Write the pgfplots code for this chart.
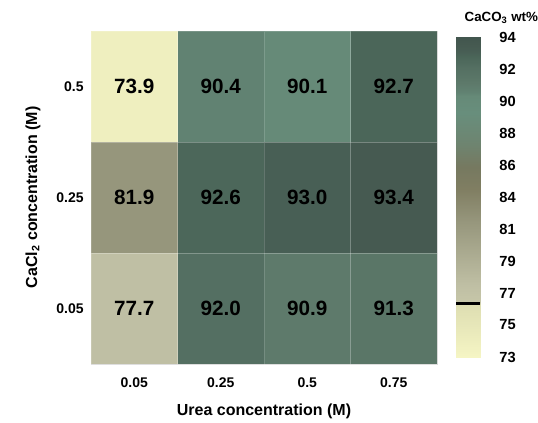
\documentclass[border=0pt]{standalone}
\usepackage{pgfplots}
\pgfplotsset{compat=1.18}
\usepackage{fontspec}
\setmainfont{Liberation Sans}
\pgfplotsset{colormap={cc}{
 rgb255(0pt)=(245,245,196);
 rgb255(3.4pt)=(222,222,178);
 rgb255(3.6pt)=(198,198,168);
 rgb255(4.7pt)=(191,191,164);
 rgb255(8.9pt)=(150,150,124);
 rgb255(11pt)=(128,126,98);
 rgb255(12.5pt)=(118,121,96);
 rgb255(14pt)=(110,132,112);
 rgb255(16pt)=(104,142,124);
 rgb255(17.1pt)=(102,138,120);
 rgb255(17.4pt)=(97,130,114);
 rgb255(17.9pt)=(94,122,107);
 rgb255(18.3pt)=(90,118,103);
 rgb255(19pt)=(84,111,98);
 rgb255(19.7pt)=(75,102,89);
 rgb255(20pt)=(72,95,85);
 rgb255(20.4pt)=(70,90,81);
 rgb255(21pt)=(66,86,78)}}
\pgfplotstableread{
x y c
0 0 77.7
1 0 92.0
2 0 90.9
3 0 91.3
0 1 81.9
1 1 92.6
2 1 93.0
3 1 93.4
0 2 73.9
1 2 90.4
2 2 90.1
3 2 92.7
}\cells
\pgfplotstableread{
x y
0 73
1 73

0 76.4
1 76.4

0 76.6
1 76.6

0 77.7
1 77.7

0 81.9
1 81.9

0 84
1 84

0 85.5
1 85.5

0 87
1 87

0 89
1 89

0 90.1
1 90.1

0 90.4
1 90.4

0 90.9
1 90.9

0 91.3
1 91.3

0 92
1 92

0 92.7
1 92.7

0 93
1 93

0 93.4
1 93.4

0 94
1 94
}\cbar
\begin{document}
\begin{tikzpicture}
\useasboundingbox (0pt,0pt) rectangle (403.5pt,316.5pt);
\begin{axis}[at={(68.25pt,43.5pt)}, anchor=south west, scale only axis,
  width=259.5pt, height=249.75pt,
  xmin=-0.5, xmax=3.5, ymin=-0.5, ymax=2.5,
  xtick={0,1,2,3}, xticklabels={0.05,0.25,0.5,0.75},
  ytick={0,1,2}, yticklabels={0.05,0.25,0.5},
  tick style={draw=none},
  axis line style={black!15},
  colormap name=cc, point meta min=73, point meta max=94,
  ticklabel style={font=\bfseries\fontsize{10.5}{12}\selectfont},
  xticklabel style={yshift=-7pt},
  yticklabel style={xshift=-2pt},
  label style={font=\bfseries\fontsize{12}{14}\selectfont},
  xlabel={Urea concentration (M)},
  ylabel={CaCl\textsubscript{2} concentration (M)},
  xlabel style={at={(axis description cs:0.5,0)}, anchor=center, yshift=-35.5pt},
  ylabel style={at={(axis description cs:-0.168,0.5)}, anchor=center},
]
\addplot[matrix plot*, mesh/cols=4, point meta=explicit, draw=white, draw opacity=0.15] table[meta=c] {\cells};
\addplot[draw=none, mark=none, point meta=explicit symbolic,
  nodes near coords, nodes near coords align=center,
  every node near coord/.style={font=\bfseries\fontsize{15.5}{18}\selectfont, text=black, anchor=center}]
  table[meta=c] {\cells};
\end{axis}
\begin{axis}[at={(342pt,48.75pt)}, anchor=south west, scale only axis,
  width=18pt, height=240pt,
  xmin=0, xmax=1, ymin=73, ymax=94,
  xtick=\empty,
  ytick={73,75.1,77.2,79.3,81.4,83.5,85.6,87.7,89.8,91.9,94},
  yticklabels={73,75,77,79,81,84,86,88,90,92,94},
  yticklabel pos=right,
  tick style={draw=none},
  axis line style={black!15},
  colormap name=cc, point meta min=73, point meta max=94,
  ticklabel style={font=\bfseries\fontsize{11}{12}\selectfont},
  yticklabel style={xshift=11pt},
  title={CaCO\textsubscript{3} wt\%},
  title style={font=\bfseries\fontsize{10}{12}\selectfont, at={(axis description cs:0.5,1)}, anchor=center, xshift=25pt, yshift=8.5pt},
]
\addplot[surf, shader=interp, point meta=y, mesh/cols=2] table {\cbar};
\addplot[black, line width=2.25pt] coordinates {(0,76.5) (1,76.5)};
\end{axis}
\end{tikzpicture}
\end{document}
